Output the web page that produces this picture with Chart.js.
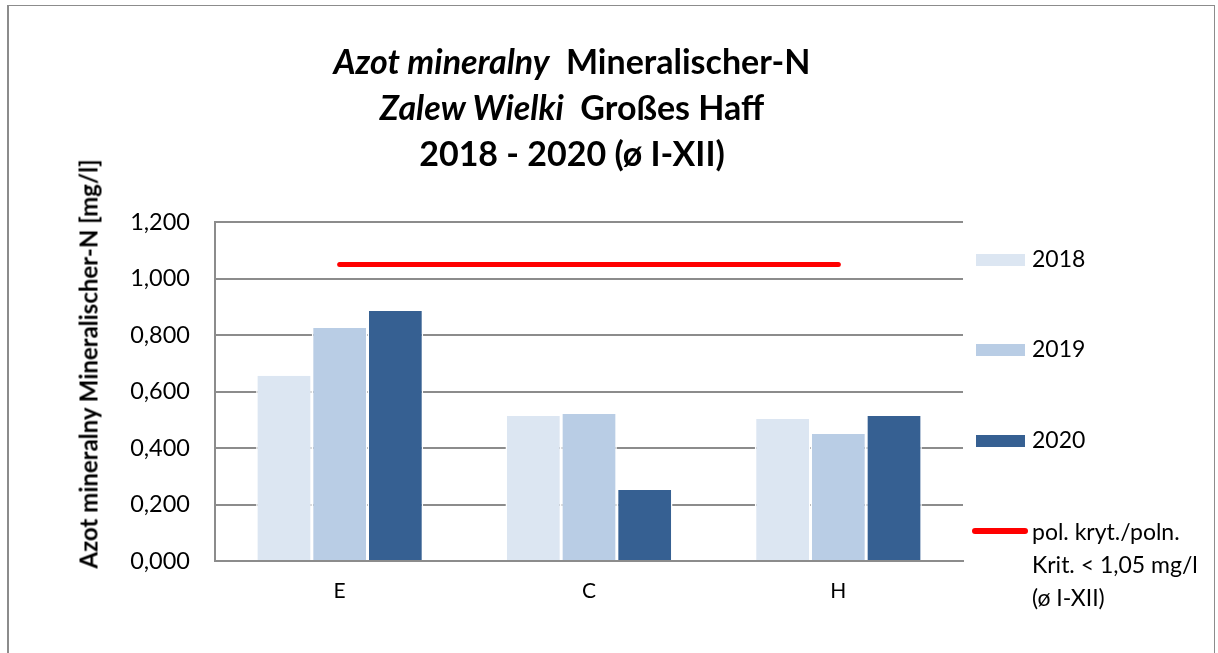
<!DOCTYPE html>
<html>
<head>
<meta charset="utf-8">
<script src="https://cdn.jsdelivr.net/npm/chart.js@4"></script>
<style>
  html, body { margin: 0; padding: 0; background: #fff; }
  body { width: 1218px; height: 653px; position: relative; overflow: hidden; font-family: Lato, "Open Sans", sans-serif; color: #000; }
  #frame { position: absolute; left: 7px; top: 5px; width: 1208px; height: 700px; border: 1px solid #8c8c8c; border-left-width: 2px; box-sizing: border-box; }
  #chart { position: absolute; left: 0; top: 0; }
  #title { position: absolute; left: 222px; width: 700px; top: 38px; text-align: center; font-weight: bold; font-size: 34px; line-height: 46px; }
  #ytitle { position: absolute; left: 88px; top: 364px; transform: translate(-50%, -50%) rotate(-90deg); white-space: nowrap; font-weight: bold; font-size: 24px; }
  .leg { position: absolute; left: 976px; font-size: 23px; }
  .leg .box { position: absolute; left: 0; width: 49px; height: 12px; }
  .leg .txt { position: absolute; left: 56px; white-space: nowrap; line-height: 33px; }
</style>
</head>
<body>
<div id="frame"></div>
<canvas id="chart" width="1218" height="653"></canvas>
<div id="title">
  <div><i>Azot mineralny</i>&nbsp; Mineralischer-N</div>
  <div><i>Zalew Wielki</i>&nbsp; Großes Haff</div>
  <div>2018 - 2020 (ø I-XII)</div>
</div>
<div id="ytitle">Azot mineralny Mineralischer-N [mg/l]</div>
<div id="legend"></div>
<script>
document.addEventListener('DOMContentLoaded', function() {

    // dane
    const categories = ['E', 'C', 'H'];
    const years = ['2018', '2019', '2020'];
    const values2018 = [0.656, 0.513, 0.503];
    const values2019 = [0.825, 0.520, 0.450];
    const values2020 = [0.885, 0.251, 0.513];
    const criticalLabel = ['pol. kryt./poln.', 'Krit. < 1,05 mg/l', '(ø I-XII)'];
    const criticalValues = [1.05, 1.05, 1.05];
    const yMin = 0, yMax = 1.2, yStep = 0.2;

    const barColors = ['#dce6f2', '#b9cde5', '#366092'];
    const lineColor = '#ff0000';
    const gridColor = '#8c8c8c';

    const barSets = [values2018, values2019, values2020].map(function(vals, i) {
        return {
            type: 'bar',
            label: years[i],
            data: vals,
            backgroundColor: barColors[i],
            borderColor: '#ffffff',
            borderWidth: { left: 1.5, right: 1.5, top: 0, bottom: 0 },
            categoryPercentage: 0.67,
            barPercentage: 1.0,
            order: 1
        };
    });

    const ctx = document.getElementById('chart').getContext('2d');
    new Chart(ctx, {
        data: {
            labels: categories,
            datasets: barSets.concat([{
                type: 'line',
                label: criticalLabel.join(' '),
                data: criticalValues,
                borderColor: lineColor,
                borderWidth: 5,
                borderCapStyle: 'round',
                pointRadius: 0,
                fill: false,
                order: 0
            }])
        },
        options: {
            responsive: false,
            animation: false,
            layout: { padding: { left: 100, right: 255, top: 222, bottom: 0 } },
            plugins: {
                legend: { display: false },
                tooltip: { enabled: false }
            },
            scales: {
                x: {
                    grid: { display: false, drawTicks: false },
                    border: { color: gridColor, width: 2 },
                    ticks: { color: '#000', padding: 18, font: { family: 'Lato', size: 21 } },
                    afterFit: function(scale) { scale.height = 92; }
                },
                y: {
                    min: yMin,
                    max: yMax,
                    grid: { color: gridColor, lineWidth: 2, drawTicks: false },
                    border: { color: gridColor, width: 2 },
                    ticks: {
                        stepSize: yStep,
                        color: '#000',
                        padding: 25,
                        font: { family: 'Lato', size: 23.5 },
                        callback: function(v) { return v.toFixed(3).replace('.', ','); }
                    },
                    afterFit: function(scale) { scale.width = 115; }
                }
            }
        }
    });

    // legenda po prawej stronie
    const legend = document.getElementById('legend');
    const legendTops = [260, 350, 441];
    years.forEach(function(y, i) {
        const item = document.createElement('div');
        item.className = 'leg';
        item.style.top = legendTops[i] + 'px';
        item.innerHTML = '<div class="box" style="top:-6px;background:' + barColors[i] + '"></div>' +
                         '<div class="txt" style="top:-18px">' + y + '</div>';
        legend.appendChild(item);
    });
    const crit = document.createElement('div');
    crit.className = 'leg';
    crit.style.top = '531px';
    crit.style.left = '972px';
    crit.innerHTML = '<div class="box" style="top:-3px;width:56px;height:6px;border-radius:3px;background:' + lineColor + '"></div>' +
                     '<div class="txt" style="top:-16px;left:60px">' + criticalLabel.join('<br>') + '</div>';
    legend.appendChild(crit);
});
</script>
</body>
</html>
